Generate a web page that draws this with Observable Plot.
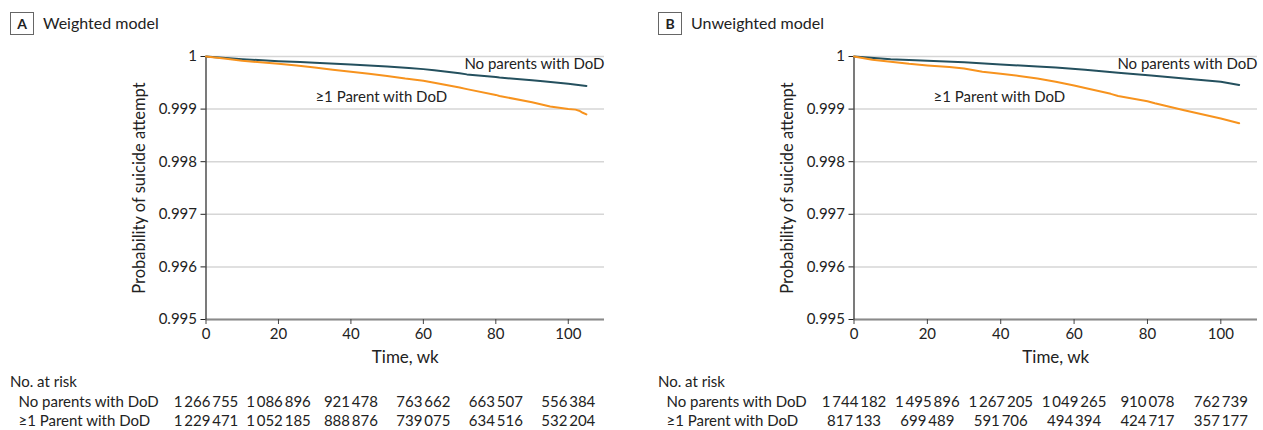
<!DOCTYPE html>
<html><head><meta charset="utf-8">
<script src="https://cdn.jsdelivr.net/npm/d3@7"></script>
<script src="https://cdn.jsdelivr.net/npm/@observablehq/plot@0.6"></script>
<style>
body{margin:0;background:#fff;font-family:Lato,"Liberation Sans",sans-serif;color:#222;}
#wrap{display:flex;width:1263px;height:430px;overflow:hidden;}
.panel{position:relative;flex:none;}
.head{height:40px;position:relative;}
.box{position:absolute;left:10px;top:12px;width:22px;height:21px;border:1px solid #666;font-weight:bold;font-size:14px;line-height:21px;text-align:center;}
.title{position:absolute;left:43px;top:11px;font-size:16px;line-height:24px;}
.riskh{height:22px;line-height:22px;font-size:15px;padding-left:10px;}
svg{display:block;}
</style></head><body><div id="wrap"></div>
<script>
// ---- data ----
const xTicks = [0, 20, 40, 60, 80, 100];
const yTicks = [0.995, 0.996, 0.997, 0.998, 0.999, 1];
const groups = ["No parents with DoD", "≥1 Parent with DoD"];
const panelLetters = ["A", "B"];
const panelTitles = ["Weighted model", "Unweighted model"];
const xLabel = "Time, wk";
const yLabel = "Probability of suicide attempt";

const weeksANone = [0, 10, 20, 26, 30, 40, 50, 56, 60, 63, 70, 72, 80, 81, 90, 93, 100, 105];
const probANone  = [1, 0.99995, 0.99991, 0.999895, 0.99988, 0.99985, 0.99981, 0.99978, 0.99976, 0.99974, 0.99968, 0.99966, 0.99961, 0.99960, 0.99955, 0.99953, 0.99948, 0.99944];
const weeksADod  = [0, 5, 10, 15, 20, 25, 30, 35, 40, 45, 50, 55, 60, 63, 70, 72, 80, 81, 90, 95, 100, 102, 103, 104, 105];
const probADod   = [1, 0.99996, 0.99992, 0.99989, 0.99986, 0.99983, 0.99979, 0.99975, 0.99971, 0.99967, 0.99963, 0.99958, 0.99954, 0.99950, 0.99941, 0.99938, 0.99927, 0.99925, 0.99913, 0.99905, 0.99900, 0.99899, 0.99897, 0.99893, 0.99890];

const weeksBNone = [0, 10, 20, 30, 40, 50, 55, 63, 72, 81, 90, 100, 105];
const probBNone  = [1, 0.99995, 0.99992, 0.99989, 0.99985, 0.99981, 0.99979, 0.99975, 0.99969, 0.99964, 0.99958, 0.99952, 0.99946];
const weeksBDod  = [0, 5, 10, 15, 20, 26, 30, 35, 40, 45, 50, 55, 60, 63, 70, 72, 80, 82, 90, 100, 105];
const probBDod   = [1, 0.99994, 0.99990, 0.99986, 0.99983, 0.99980, 0.99977, 0.99971, 0.99967, 0.99963, 0.99958, 0.99952, 0.99945, 0.99940, 0.99929, 0.99925, 0.99915, 0.99911, 0.99898, 0.99882, 0.99873];

const riskWeeks = [0, 20, 40, 60, 80, 100];
const riskANone = [1266755, 1086896, 921478, 763662, 663507, 556384];
const riskADod  = [1229471, 1052185, 888876, 739075, 634516, 532204];
const riskBNone = [1744182, 1495896, 1267205, 1049265, 910078, 762739];
const riskBDod  = [817133, 699489, 591706, 494394, 424717, 357177];

// label anchor points (data coords)
const labelNoneX = [110, 110], labelNoneY = [0.99985, 0.99985];
const labelDodX = [30.2, 21.7], labelDodY = [0.99922, 0.99922];

// ---- drawing ----
const FONT = "Lato, 'Liberation Sans', sans-serif";
const TEAL = "#24505e", ORANGE = "#f7931e";
const fmt = d3.formatLocale({decimal: ".", thousands: "\u2009", grouping: [3], currency: ["", ""]}).format(",d");
const pairs = (w, p) => w.map((d, i) => ({w: d, p: p[i]}));

const panels = [
  {width: 648, mr: 44, none: pairs(weeksANone, probANone), dod: pairs(weeksADod, probADod), rn: riskANone, rd: riskADod},
  {width: 615, mr: 6, none: pairs(weeksBNone, probBNone), dod: pairs(weeksBDod, probBDod), rn: riskBNone, rd: riskBDod}
];

const wrap = document.getElementById("wrap");
panels.forEach((P, i) => {
  const div = document.createElement("div");
  div.className = "panel";
  div.style.width = P.width + "px";
  const head = document.createElement("div");
  head.className = "head";
  head.innerHTML = `<div class="box">${panelLetters[i]}</div><div class="title">${panelTitles[i]}</div>`;
  div.appendChild(head);

  const chart = Plot.plot({
    width: P.width, height: 330,
    marginLeft: 205.5, marginRight: P.mr, marginTop: 16, marginBottom: 51,
    style: {fontFamily: FONT, fontSize: "15px", color: "#222", background: "transparent", overflow: "visible"},
    x: {domain: [0, 110]},
    y: {domain: [0.995, 1]},
    marks: [
      Plot.gridY(yTicks, {stroke: "#d6d6d6", strokeOpacity: 1, strokeWidth: 1.5}),
      Plot.ruleY([0.995], {stroke: "#8a8a8a", strokeWidth: 2}),
      Plot.ruleX([0], {y1: 0.995, y2: 1, stroke: "#222", strokeWidth: 1.2}),
      Plot.axisX({ticks: xTicks, tickSize: 5, tickPadding: 4, stroke: "#444", label: null}),
      Plot.axisY({ticks: yTicks, tickFormat: d3.format(".3~f"), tickSize: 5, tickPadding: 4, stroke: "#222", label: null}),
      Plot.text([xLabel], {frameAnchor: "bottom", dy: 38, text: d => d, fontSize: 17, textAnchor: "middle", lineAnchor: "middle", fill: "#222"}),
      Plot.text([yLabel], {frameAnchor: "left", dx: -66.5, rotate: -90, text: d => d, fontSize: 16.5, textAnchor: "middle", lineAnchor: "middle", fill: "#222"}),
      Plot.line(P.none, {x: "w", y: "p", stroke: TEAL, strokeWidth: 2}),
      Plot.line(P.dod, {x: "w", y: "p", stroke: ORANGE, strokeWidth: 2}),
      Plot.text([groups[0]], {x: labelNoneX[i], y: labelNoneY[i], text: d => d, textAnchor: "end", fill: "#222"}),
      Plot.text([groups[1]], {x: labelDodX[i], y: labelDodY[i], text: d => d, textAnchor: "start", fill: "#222"})
    ]
  });
  div.appendChild(chart);

  const rh = document.createElement("div");
  rh.className = "riskh";
  rh.textContent = "No. at risk";
  div.appendChild(rh);

  const riskData = [];
  riskWeeks.forEach((w, j) => {
    riskData.push({w, g: groups[0], n: P.rn[j]});
    riskData.push({w, g: groups[1], n: P.rd[j]});
  });
  const risk = Plot.plot({
    width: P.width, height: 38,
    marginLeft: 205.5, marginRight: P.mr, marginTop: 0, marginBottom: 0,
    style: {fontFamily: FONT, fontSize: "15px", color: "#222", background: "transparent", overflow: "visible"},
    x: {domain: [0, 110], axis: null},
    y: {domain: groups, axis: null},
    marks: [
      Plot.axisY({tickSize: 0, tickPadding: 187.5, textAnchor: "start", label: null}),
      Plot.text(riskData, {x: "w", y: "g", text: d => fmt(d.n), textAnchor: "middle", fill: "#222"})
    ]
  });
  div.appendChild(risk);
  wrap.appendChild(div);
});
</script>
</body></html>
